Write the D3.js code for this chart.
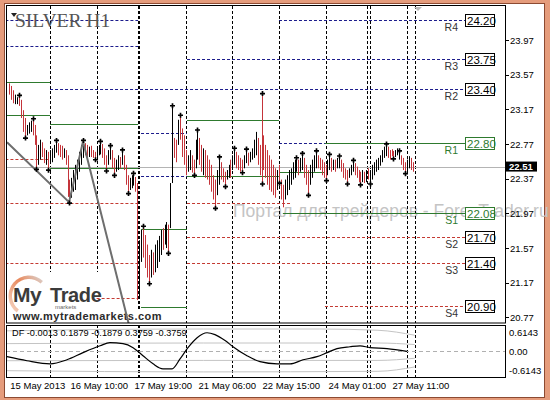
<!DOCTYPE html>
<html><head><meta charset="utf-8">
<script src="https://cdn.jsdelivr.net/npm/d3@7"></script>
<style>body{margin:0;background:#fff}svg{display:block}</style>
</head><body><svg id="c" width="550" height="400"></svg>
<script>
// ---------------- DATA ----------------
const title = "SILVER H1";
const dayNames = ["15 May","16 May","17 May","20 May","21 May","22 May","23 May","24 May","27 May","28 May","29 May"];
const dayBars  = [21,24,22,24,24,24,24,23,19,4];
const extraGrid = [66.4, 184.4];
const highs = [23.47,23.44,23.39,23.34,23.31,23.32,23.28,23.16,23.07,22.99,23.02,23.04,23.05,22.99,22.87,22.76,22.82,22.79,22.72,22.70,22.68,
 22.70,22.72,22.76,22.80,22.78,22.76,22.75,22.72,22.70,22.64,22.36,22.38,22.47,22.53,22.59,22.68,22.76,22.80,22.78,22.76,22.74,22.75,22.70,22.68,
 22.72,22.76,22.79,22.77,22.72,22.64,22.70,22.74,22.70,22.61,22.59,22.64,22.62,22.69,22.64,22.53,22.41,22.38,22.41,22.42,22.39,22.32,
 21.66,21.78,21.81,21.72,21.61,21.49,21.55,21.52,21.61,21.66,21.71,21.78,21.80,21.84,21.87,21.84,22.32,23.20,22.84,22.82,23.05,23.09,22.95,22.87,
 22.70,22.64,22.70,22.64,22.59,22.82,22.92,22.84,22.76,22.72,22.70,22.64,22.59,22.53,22.41,22.36,22.47,22.61,22.56,22.49,22.45,22.47,22.53,22.59,
 22.64,22.71,22.68,22.64,22.61,22.59,22.64,22.70,22.67,22.68,22.72,22.82,22.91,22.84,22.76,23.34,22.87,22.76,22.70,22.64,22.59,22.53,22.49,22.47,
 22.53,22.36,22.30,22.36,22.41,22.47,22.49,22.56,22.59,22.60,22.59,22.61,22.65,22.61,22.53,22.47,22.53,22.59,22.64,22.68,22.64,22.61,22.59,22.56,
 22.53,22.59,22.64,22.61,22.59,22.59,22.61,22.62,22.59,22.55,22.49,22.47,22.49,22.53,22.57,22.55,22.51,22.47,22.45,22.47,22.45,22.47,22.49,
 22.47,22.53,22.56,22.59,22.61,22.64,22.70,22.74,22.76,22.74,22.70,22.71,22.69,22.70,22.72,22.68,22.64,22.61,22.56,
 22.59,22.63,22.61,22.56];
const lows = [23.34,23.28,23.24,23.23,23.23,23.21,23.07,22.91,22.85,22.87,22.89,22.91,22.87,22.76,22.49,22.53,22.59,22.62,22.55,22.53,22.48,
 22.54,22.56,22.61,22.67,22.64,22.62,22.59,22.61,22.53,22.16,22.10,22.15,22.22,22.24,22.36,22.45,22.53,22.61,22.64,22.61,22.62,22.62,22.61,22.60,
 22.63,22.64,22.65,22.61,22.53,22.47,22.53,22.59,22.49,22.42,22.45,22.47,22.49,22.53,22.47,22.30,22.21,22.24,22.26,22.29,22.22,20.97,
 21.01,21.41,21.46,21.34,21.23,21.17,21.23,21.26,21.29,21.34,21.41,21.49,21.55,21.61,21.57,21.52,21.80,22.32,22.61,22.56,22.76,22.82,22.62,22.53,
 22.41,22.45,22.47,22.44,22.42,22.49,22.59,22.53,22.45,22.41,22.38,22.36,22.30,22.22,22.13,22.04,22.18,22.30,22.36,22.33,22.29,22.36,22.38,22.38,
 22.47,22.53,22.49,22.47,22.45,22.45,22.49,22.55,22.52,22.56,22.59,22.61,22.64,22.53,22.41,22.32,22.47,22.38,22.30,22.24,22.22,22.18,22.15,22.24,
 22.33,22.13,22.04,22.13,22.18,22.24,22.30,22.36,22.38,22.45,22.41,22.45,22.47,22.38,22.30,22.19,22.30,22.38,22.45,22.49,22.49,22.47,22.41,22.38,
 22.36,22.41,22.47,22.45,22.47,22.45,22.49,22.49,22.45,22.38,22.36,22.32,22.38,22.41,22.45,22.41,22.38,22.33,22.31,22.33,22.32,22.33,22.36,
 22.32,22.36,22.41,22.45,22.47,22.52,22.56,22.61,22.63,22.61,22.59,22.63,22.61,22.62,22.64,22.59,22.53,22.47,22.44,
 22.45,22.49,22.47,22.45];
const ups = [0,0,0,1,1,0,0,0,0,1,1,1,0,0,0,1,1,0,0,1,0,
 1,1,1,1,0,0,0,1,0,0,0,1,1,1,1,1,1,1,0,0,1,0,0,0,
 1,1,1,0,0,0,1,1,0,0,1,1,0,1,0,0,0,1,1,1,0,0,
 1,1,0,0,0,0,1,0,1,1,1,1,0,1,1,0,1,1,0,0,1,0,0,0,
 0,1,1,0,0,1,1,0,0,1,0,0,0,0,0,0,1,1,0,0,0,1,1,0,
 1,1,0,0,0,0,1,1,0,1,1,1,1,0,0,0,0,0,0,0,0,0,0,1,
 0,0,0,1,1,1,1,1,1,1,0,1,1,0,0,0,1,1,1,1,0,0,0,0,
 0,1,1,0,1,0,1,1,0,0,0,0,1,1,1,0,0,0,0,1,0,1,0,
 1,1,1,1,1,1,1,1,1,0,0,0,0,1,1,1,0,0,0,
 1,1,0,0];
const fractalUp   = [5,12,24,38,47,52,58,64,69,84,88,97,108,116,122,130,148,151,158,165,170,177,194,201];
const fractalDown = [8,14,20,31,44,50,54,61,72,82,95,106,111,120,130,139,154,163,174,181,186,198,204];
const zigzag = [[-1.2,22.79],[30.8,22.10],[38,22.80],[61.5,20.70]];
const currentPrice = 22.51;
const priceTicks = [23.97,23.57,23.17,22.77,22.37,21.97,21.57,21.17,20.77];
const timeLabels = [[0,"15 May 2013"],[31,"16 May 10:00"],[64,"17 May 19:00"],[97,"21 May 06:00"],[130,"22 May 15:00"],[164,"24 May 01:00"],[197,"27 May 11:00"]];
// pivot segments: [startIndex, endIndex, price]
const resistSegs = [[-2,66.4,24.20],[-2,66.4,23.90],[139,235,24.20],[91.6,235,23.75],[21,235,23.40],[67.9,91.6,22.90],[67.9,91.6,22.40],[139,162.7,22.78]];
const keySegs    = [[-2,21,23.49],[-2,21,23.10],[21,66.4,23.00],[21,66.4,22.49],[67.9,91.6,21.79],[67.9,91.6,20.89],[91.6,139,23.05],[91.6,139,22.40],[139,162.7,22.45],[162.7,235,22.78],[141,235,21.97]];
const supportSegs= [[-2,21,22.60],[-2,66.4,22.09],[-2,66.4,21.40],[45,66.4,20.99],[91.6,145,22.09],[91.6,235,21.70],[91.6,235,21.40],[162.7,235,20.90]];
const pivotNames  = ["R4","R3","R2","R1","S1","S2","S3","S4"];
const pivotValues = [24.20,23.75,23.40,22.80,22.08,21.70,21.40,20.90];
const pivotLines  = [24.20,23.75,23.40,22.78,21.97,21.70,21.40,20.90];
// indicator
const dfLabel = "DF -0.0013 0.1879 -0.1879 0.3759 -0.3759";
const dfTicks = [["0.6143",0.6143],["0.00",0],["-0.6143",-0.6143]];
const dfMain = [[-1.2,-0.17],[9.1,-0.30],[21,-0.40],[29.7,-0.27],[38,-0.04],[46.8,0.18],[51.9,0.28],[58.6,0.25],[63.8,0.12],[68.9,-0.14],[74.1,-0.40],[79.2,-0.56],[83.9,-0.56],[88,-0.24],[92.1,0.12],[96.8,0.44],[101.9,0.60],[106,0.54],[111.2,0.35],[115.3,0.15],[122.5,-0.14],[129.2,-0.33],[138,-0.40],[144.7,-0.40],[151.4,-0.27],[158.6,-0.17],[163.8,-0.04],[168.9,0.09],[175.6,0.15],[180.8,0.18],[185.9,0.12],[194.7,0.09],[205,0.00]];
const bandUp2 = [[-2,0.66],[40,0.70],[100,0.72],[160,0.72],[190,0.68],[209,0.52]];
const bandUp1 = [[-2,0.25],[100,0.27],[190,0.27],[209,0.22]];
const bandLo1 = [[-2,-0.30],[100,-0.29],[190,-0.29],[209,-0.22]];
const bandLo2 = [[-2,-0.62],[100,-0.66],[190,-0.64],[209,-0.50]];

// ---------------- LAYOUT ----------------
const svg = d3.select("#c");
const L = 6, R = 505, T = 6, B = 323, IT = 325, IB = 377;
const nBars = highs.length;
const x = d3.scaleLinear().domain([0, 229]).range([9.3, 453.6]);
const y = d3.scaleLinear().domain([20.77, 23.97]).range([317.4, 40]);
const yi = d3.scaleLinear().domain([-0.6143, 0.6143]).range([370.5, 332.3]);
const font = "'Liberation Sans', Arial, sans-serif";

// frame
svg.append("rect").attr("width",550).attr("height",400).attr("fill","#e59c7c");
svg.append("rect").attr("x",4.5).attr("y",3.5).attr("width",540).attr("height",394).attr("fill","#fff").attr("stroke","#8c4a32");

const defs = svg.append("defs");
defs.append("clipPath").attr("id","cm").append("rect").attr("x",L).attr("y",T).attr("width",R-L).attr("height",B-T);
defs.append("clipPath").attr("id","ci").append("rect").attr("x",L).attr("y",IT).attr("width",R-L).attr("height",IB-IT);
const gr = defs.append("linearGradient").attr("id","ring").attr("x1","0").attr("y1","1").attr("x2","1").attr("y2","0");
gr.append("stop").attr("offset","0").attr("stop-color","#f6d9c8");
gr.append("stop").attr("offset","0.6").attr("stop-color","#e98a5e");
gr.append("stop").attr("offset","1").attr("stop-color","#d9d9d9");

// watermark (background)
svg.append("text").attr("x",233).attr("y",217).attr("font-family",font).attr("font-size",17.5)
  .attr("fill","#c4c4c4").text("Портал для трейдеров - ForexTrader.ru");

const gm = svg.append("g").attr("clip-path","url(#cm)");
const gi = svg.append("g").attr("clip-path","url(#ci)");

// day separators
let starts = [], acc = 0;
dayBars.forEach(n => { acc += n; starts.push(acc); });
const sepIdx = starts.concat(extraGrid);
[[gm,T,B],[gi,IT,IB]].forEach(([g,t,b]) => {
  g.selectAll(null).data(sepIdx).join("line")
    .attr("x1",d=>Math.round(x(d))+0.5).attr("x2",d=>Math.round(x(d))+0.5)
    .attr("y1",t).attr("y2",b).attr("stroke","#000").attr("stroke-dasharray","3,2");
});

// logo (opaque background)
const lg = gm.append("g");
lg.append("rect").attr("x",7).attr("y",272).attr("width",96).attr("height",38).attr("fill","#fff");
lg.append("rect").attr("x",7).attr("y",309).attr("width",156).attr("height",14).attr("fill","#fff");
lg.append("path").attr("transform","translate(29,296)")
  .attr("d", d3.arc()({innerRadius:17,outerRadius:20.5,startAngle:-2.5,endAngle:0.75})).attr("fill","url(#ring)");
lg.append("text").attr("x",13).attr("y",302).attr("font-family",font).attr("font-weight","bold").attr("font-size",21)
  .attr("fill","#3b3b3b").attr("letter-spacing",-0.5).text("My");
lg.append("text").attr("x",50).attr("y",302).attr("font-family",font).attr("font-weight","bold").attr("font-size",20)
  .attr("fill","#3b3b3b").attr("letter-spacing",-0.4).text("Trade");
lg.append("text").attr("x",55).attr("y",309).attr("font-family",font).attr("font-size",6)
  .attr("fill","#666").text("markets");
lg.append("text").attr("x",13).attr("y",320).attr("font-family",font).attr("font-weight","bold").attr("font-size",11)
  .attr("letter-spacing",0.45).attr("fill","#2b2b2b").text("www.mytrademarkets.com");

// pivot segments
function segs(data, color, dash){
  gm.selectAll(null).data(data).join("line")
    .attr("x1",d=>x(d[0])).attr("x2",d=>x(d[1]))
    .attr("y1",d=>Math.round(y(d[2]))+0.5).attr("y2",d=>Math.round(y(d[2]))+0.5)
    .attr("stroke",color).attr("stroke-dasharray",dash);
}
segs(resistSegs, "#1c1c8c", "3,2");
segs(supportSegs, "#c43a32", "3,2");
segs(keySegs, "#2e7a2e", null);

// current price line
gm.append("line").attr("x1",L).attr("x2",R).attr("y1",Math.round(y(currentPrice))+0.5).attr("y2",Math.round(y(currentPrice))+0.5)
  .attr("stroke","#b4b4b4");

// bars
gm.selectAll(null).data(d3.range(nBars)).join("line")
  .attr("x1",i=>Math.round(x(i))+0.5).attr("x2",i=>Math.round(x(i))+0.5)
  .attr("y1",i=>y(highs[i])).attr("y2",i=>y(lows[i]))
  .attr("stroke",i=>ups[i] ? "#000" : "#c4343a").attr("stroke-width",1);

// zigzag
gm.append("path").attr("d", d3.line().x(d=>x(d[0])).y(d=>y(d[1]))(zigzag))
  .attr("fill","none").attr("stroke","#6e6e6e").attr("stroke-width",2);

// fractals
const fr = fractalUp.map(i=>[i, highs[i], -1]).concat(fractalDown.map(i=>[i, lows[i], 1]));
gm.selectAll(null).data(fr).join("path")
  .attr("transform",d=>`translate(${Math.round(x(d[0]))+0.5},${y(d[1])+d[2]*1})`)
  .attr("d", d3.symbol(d3.symbolCross, 14)()).attr("fill","#000");

// pivot labels
pivotNames.forEach((n,k)=>{
  const yy = Math.round(y(pivotLines[k]))+0.5;
  const green = (n==="R1"||n==="S1");
  const col = green ? "#2e7a2e" : "#000";
  svg.append("line").attr("x1",x(235)).attr("x2",465).attr("y1",yy).attr("y2",yy).attr("stroke",col);
  svg.append("rect").attr("x",465.5).attr("y",yy-6).attr("width",29).attr("height",12).attr("fill","#fff").attr("stroke",col);
  svg.append("text").attr("x",467).attr("y",yy+4.5).attr("font-family",font).attr("font-size",11.5)
    .attr("fill",col).text(pivotValues[k].toFixed(2));
  svg.append("text").attr("x",458).attr("y",yy+10.5).attr("text-anchor","end").attr("font-family",font).attr("font-size",10.5)
    .attr("fill",green ? "#2e7a2e" : "#333").text(n);
});

// title & small markers
svg.append("text").attr("x",15).attr("y",27).attr("font-family","'Liberation Serif', 'Times New Roman', serif").attr("font-size",19.5)
  .attr("fill","#555").text(title);
svg.append("path").attr("d","M11,13L17,13L14,17Z").attr("fill","#222");
svg.append("path").attr("d","M414,7L422,7L418,11Z").attr("fill","#bbb");

// panel borders
svg.append("rect").attr("x",L+0.5).attr("y",T-0.5).attr("width",R-L).attr("height",B-T+0.5).attr("fill","none").attr("stroke","#000");
svg.append("rect").attr("x",L+0.5).attr("y",IT+0.5).attr("width",R-L).attr("height",IB-IT).attr("fill","none").attr("stroke","#000");

// price axis
svg.selectAll(null).data(priceTicks).join("line")
  .attr("x1",R+1).attr("x2",R+4).attr("y1",d=>Math.round(y(d))+0.5).attr("y2",d=>Math.round(y(d))+0.5).attr("stroke","#000");
svg.selectAll(null).data(priceTicks).join("text")
  .attr("x",510).attr("y",d=>y(d)+3.5).attr("font-family",font).attr("font-size",9.5).attr("fill","#000")
  .text(d=>d.toFixed(2));
// current price tag
svg.append("rect").attr("x",506).attr("y",y(currentPrice)-5).attr("width",31).attr("height",10).attr("fill","#000");
svg.append("text").attr("x",509).attr("y",y(currentPrice)+3.5).attr("font-family",font).attr("font-size",9.5)
  .attr("font-weight","bold").attr("fill","#fff").text(currentPrice.toFixed(2));

// indicator
gi.append("line").attr("x1",L).attr("x2",R).attr("y1",Math.round(yi(0))+0.5).attr("y2",Math.round(yi(0))+0.5)
  .attr("stroke","#b0b0b0").attr("stroke-dasharray","4,3");
const li = d3.line().x(d=>x(d[0])).y(d=>yi(d[1])).curve(d3.curveMonotoneX);
[bandUp2,bandUp1,bandLo1,bandLo2].forEach(b=>{
  gi.append("path").attr("d",li(b)).attr("fill","none").attr("stroke","#c4c4c4");
});
gi.append("path").attr("d",li(dfMain)).attr("fill","none").attr("stroke","#000").attr("stroke-width",1.2);
svg.append("text").attr("x",12).attr("y",336).attr("font-family",font).attr("font-size",9.2).attr("fill","#000").text(dfLabel);
svg.selectAll(null).data(dfTicks).join("text")
  .attr("x",509).attr("y",d=>yi(d[1])+3.5).attr("font-family",font).attr("font-size",9.5).attr("fill","#000").text(d=>d[0]);

// time axis
svg.selectAll(null).data(timeLabels).join("text")
  .attr("x",d=>Math.max(7, x(d[0])+1)).attr("y",389).attr("font-family",font).attr("font-size",9.5).attr("fill","#000")
  .text(d=>d[1]);
</script></body></html>
